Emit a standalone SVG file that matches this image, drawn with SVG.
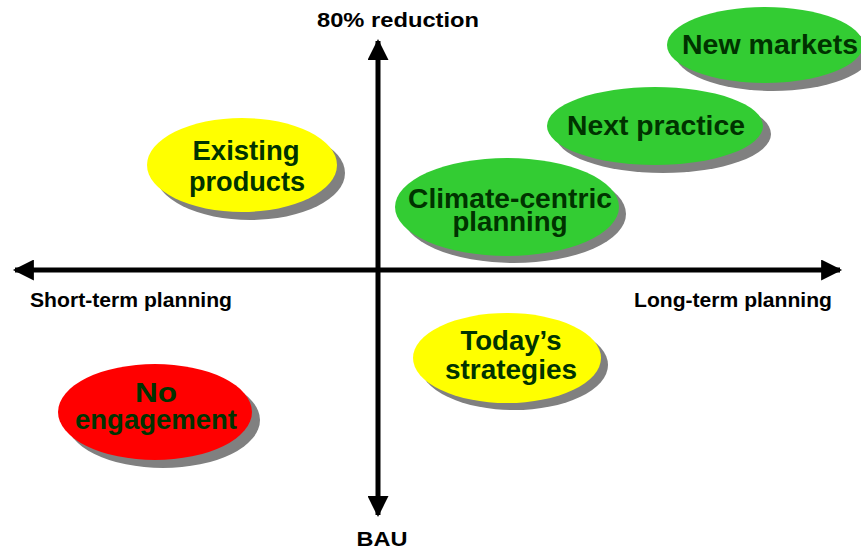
<svg xmlns="http://www.w3.org/2000/svg" width="861" height="550" viewBox="0 0 861 550">
<style>
.sh{fill:#808080}
.y{fill:#FFFF00}
.g{fill:#33CC33}
.r{fill:#FF0000}
.t{font-family:"Liberation Sans",Arial,sans-serif;font-weight:bold;font-size:28px;fill:#003300;text-anchor:middle}
.a{font-family:"Liberation Sans",Arial,sans-serif;font-weight:bold;font-size:20px;fill:#000;text-anchor:middle}
.ax{stroke:#000;stroke-width:5;fill:none}
</style>
<defs>
<marker id="ah" viewBox="0 0 10 10" refX="9" refY="5" markerWidth="4.6" markerHeight="4.2" markerUnits="strokeWidth" orient="auto">
<path d="M0,0 L10,5 L0,10 Z" fill="#000"/>
</marker>
</defs>
<g id="connectors">
<line class="ax" x1="378" y1="270" x2="378" y2="41" marker-end="url(#ah)"/>
<line class="ax" x1="378" y1="270" x2="378" y2="515" marker-end="url(#ah)"/>
<line class="ax" x1="378" y1="270" x2="15" y2="270" marker-end="url(#ah)"/>
<line class="ax" x1="378" y1="270" x2="840" y2="270" marker-end="url(#ah)"/>
</g>
<g id="label-top"><text class="a" x="398" y="27" textLength="162" lengthAdjust="spacingAndGlyphs">80% reduction</text></g>
<g id="label-bottom"><text class="a" x="382" y="546" textLength="51" lengthAdjust="spacingAndGlyphs">BAU</text></g>
<g id="label-left"><text class="a" x="131" y="307" textLength="202" lengthAdjust="spacingAndGlyphs">Short-term planning</text></g>
<g id="label-right"><text class="a" x="733" y="307" textLength="198" lengthAdjust="spacingAndGlyphs">Long-term planning</text></g>
<g id="new-markets">
<ellipse class="sh" cx="773" cy="53" rx="98" ry="38"/>
<ellipse class="g" cx="765" cy="45" rx="98" ry="38"/>
<text class="t" x="770" y="54" textLength="176" lengthAdjust="spacingAndGlyphs">New markets</text>
</g>
<g id="next-practice">
<ellipse class="sh" cx="663" cy="134" rx="108" ry="39"/>
<ellipse class="g" cx="655" cy="126" rx="108" ry="39"/>
<text class="t" x="656" y="135" textLength="178" lengthAdjust="spacingAndGlyphs">Next practice</text>
</g>
<g id="existing-products">
<ellipse class="sh" cx="250" cy="173" rx="95" ry="47"/>
<ellipse class="y" cx="242" cy="165" rx="95" ry="47"/>
<text class="t" x="246" y="160" textLength="107" lengthAdjust="spacingAndGlyphs">Existing</text>
<text class="t" x="247" y="191" textLength="116" lengthAdjust="spacingAndGlyphs">products</text>
</g>
<g id="climate-centric">
<ellipse class="sh" cx="514" cy="214" rx="112" ry="49"/>
<ellipse class="g" cx="507" cy="207" rx="112" ry="49"/>
<text class="t" x="510" y="208" textLength="204" lengthAdjust="spacingAndGlyphs">Climate-centric</text>
<text class="t" x="510" y="231" textLength="115" lengthAdjust="spacingAndGlyphs">planning</text>
</g>
<g id="todays-strategies">
<ellipse class="sh" cx="514" cy="365" rx="94" ry="45"/>
<ellipse class="y" cx="507" cy="358" rx="94" ry="45"/>
<text class="t" x="511" y="350" textLength="101" lengthAdjust="spacingAndGlyphs">Today’s</text>
<text class="t" x="511" y="379" textLength="132" lengthAdjust="spacingAndGlyphs">strategies</text>
</g>
<g id="no-engagement">
<ellipse class="sh" cx="163" cy="420" rx="97" ry="48"/>
<ellipse class="r" cx="155" cy="412" rx="97" ry="48"/>
<text class="t" x="156" y="402" textLength="42" lengthAdjust="spacingAndGlyphs">No</text>
<text class="t" x="156" y="429" textLength="162" lengthAdjust="spacingAndGlyphs">engagement</text>
</g>
</svg>
